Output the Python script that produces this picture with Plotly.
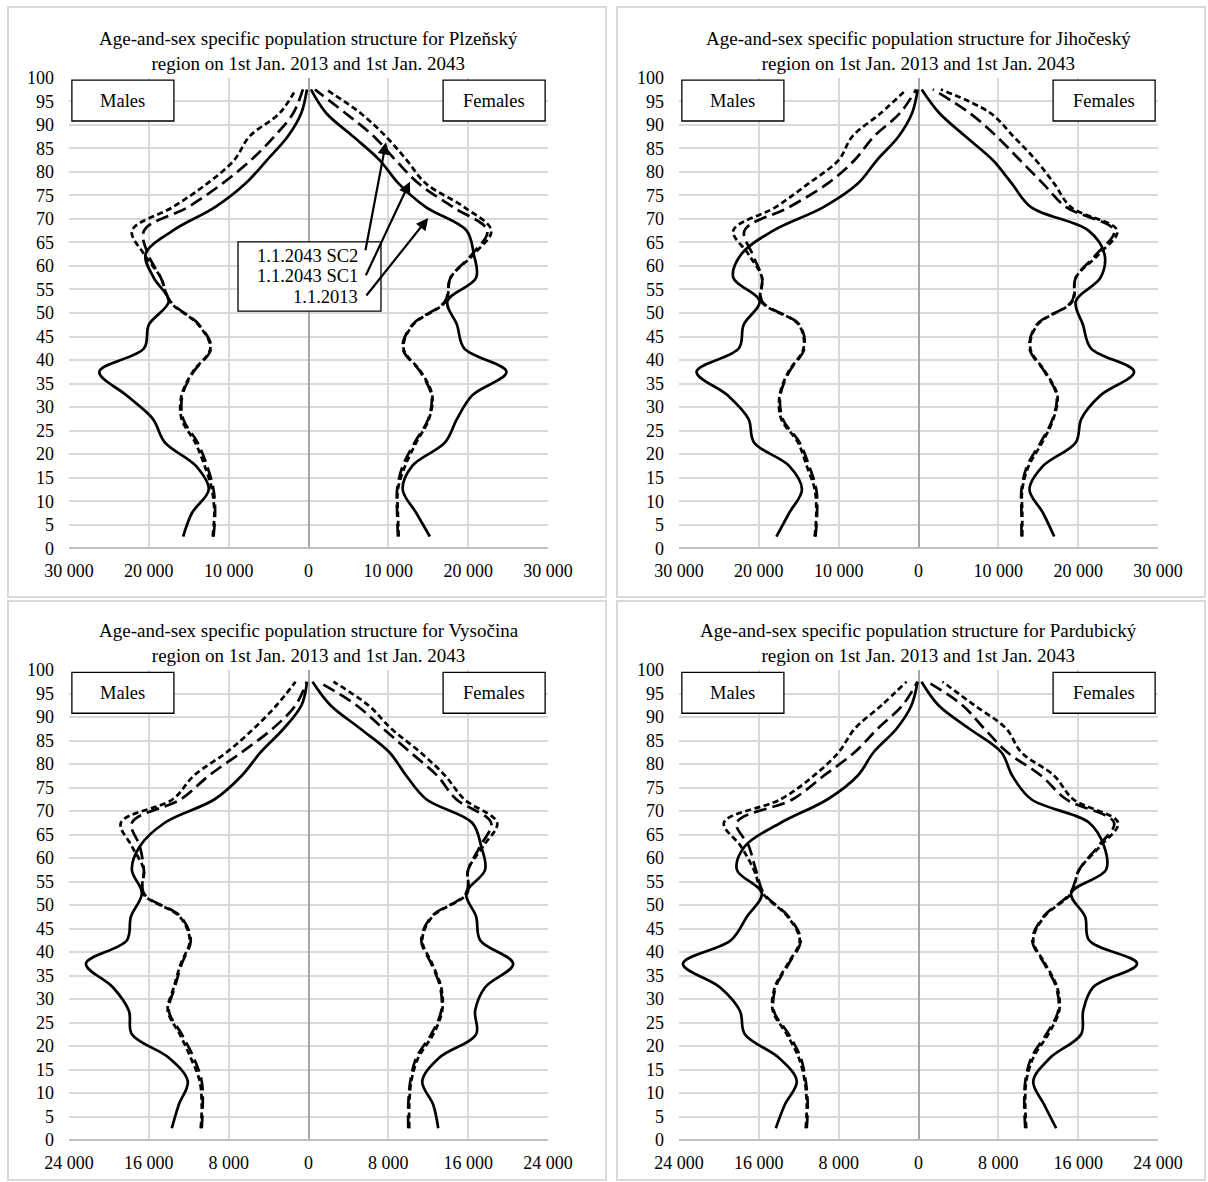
import plotly.graph_objects as go

# ---------------- data ----------------
ages = [2.5, 7.5, 12.5, 17.5, 22.5, 27.5, 32.5, 37.5, 42.5, 47.5,
        52.5, 57.5, 62.5, 67.5, 72.5, 77.5, 82.5, 87.5, 92.5, 97.5]

regions = ["Plzeňský", "Jihočeský", "Vysočina", "Pardubický"]

y_ticks = [0, 5, 10, 15, 20, 25, 30, 35, 40, 45, 50, 55, 60, 65, 70, 75, 80, 85, 90, 95, 100]
x_ticks_30 = [-30000, -20000, -10000, 0, 10000, 20000, 30000]
x_labels_30 = ["30 000", "20 000", "10 000", "0", "10 000", "20 000", "30 000"]
x_ticks_24 = [-24000, -16000, -8000, 0, 8000, 16000, 24000]
x_labels_24 = ["24 000", "16 000", "8 000", "0", "8 000", "16 000", "24 000"]

# Plzeňský
plz_m_2013 = [15700, 14600, 12500, 14100, 18000, 19500, 22800, 26200, 20600, 20000,
              17500, 19400, 20400, 17000, 11700, 7900, 5200, 2600, 900, 200]
plz_m_sc1 = [11900, 11700, 11900, 12700, 13900, 15700, 15800, 14400, 12200, 13700,
             17300, 18500, 20100, 20600, 15100, 10800, 7200, 4300, 1900, 700]
plz_m_sc2 = [12000, 11800, 12100, 13000, 14200, 15900, 15900, 14500, 12300, 13800,
             17400, 18500, 20600, 22100, 17000, 12700, 9300, 7400, 3600, 1600]
plz_f_2013 = [15200, 13500, 11800, 13000, 17100, 18600, 20500, 24800, 19500, 18600,
              17400, 21000, 20700, 19800, 14700, 11300, 8900, 5600, 2200, 300]
plz_f_sc1 = [11200, 11100, 11100, 11800, 13300, 15000, 15400, 14000, 11800, 13000,
             17100, 17800, 20500, 22400, 18100, 13800, 10900, 8200, 4600, 800]
plz_f_sc2 = [11300, 11200, 11200, 12100, 13500, 15100, 15500, 14100, 11900, 13100,
             17200, 17800, 20700, 22900, 19500, 14700, 12300, 9700, 6500, 2200]

# Jihočeský
jih_m_2013 = [17800, 16200, 14600, 16200, 20600, 21300, 23900, 27800, 22500, 21900,
              19900, 23200, 22200, 18200, 11900, 7600, 5200, 2500, 800, 100]
jih_m_sc1 = [12900, 12700, 12800, 13700, 14900, 17000, 17300, 16200, 14300, 14900,
             19600, 19600, 20800, 21800, 16200, 11400, 8000, 5600, 2300, 300]
jih_m_sc2 = [13000, 12800, 13000, 14000, 15100, 17200, 17400, 16300, 14400, 15000,
             19700, 19600, 21300, 23200, 17900, 13800, 10000, 8300, 4700, 1500]
jih_f_2013 = [17000, 15600, 13900, 15600, 19700, 20400, 22800, 27000, 21600, 20600,
              19700, 22800, 23300, 21300, 14100, 11700, 9300, 5900, 2600, 400]
jih_f_sc1 = [12900, 12900, 12900, 13600, 15300, 16800, 17300, 15800, 13900, 14800,
             19200, 19700, 22300, 24500, 18500, 15600, 12700, 9800, 6400, 1800]
jih_f_sc2 = [13000, 13000, 13000, 13800, 15500, 16900, 17400, 15900, 14000, 14900,
             19300, 19700, 22600, 24900, 19100, 17000, 14700, 11900, 9000, 2800]

# Vysočina
vys_m_2013 = [13700, 13000, 12100, 14000, 17700, 18000, 19600, 22300, 18200, 17800,
              16700, 17700, 16900, 14400, 9400, 6700, 4800, 2500, 700, 150]
vys_m_sc1 = [10700, 10600, 10700, 11500, 12700, 14000, 13400, 12700, 11800, 12800,
             16500, 16500, 16900, 17700, 12800, 10000, 6700, 3600, 1300, 150]
vys_m_sc2 = [10800, 10700, 10900, 11800, 12900, 14100, 13500, 12800, 11900, 12900,
             16600, 16500, 17700, 18800, 13600, 11500, 8200, 5500, 3200, 1300]
vys_f_2013 = [13000, 12500, 11400, 13100, 16800, 16700, 17700, 20500, 17200, 16800,
              15800, 17700, 17300, 16400, 11800, 9800, 8100, 5200, 2200, 400]
vys_f_sc1 = [10000, 10000, 10200, 10800, 12300, 13300, 13200, 12300, 11300, 12300,
             15800, 16000, 17200, 18300, 14800, 12900, 10200, 7500, 4800, 1000]
vys_f_sc2 = [10100, 10100, 10300, 11000, 12500, 13400, 13300, 12400, 11400, 12400,
             15900, 16000, 17500, 18900, 15600, 13700, 11200, 8300, 6000, 2500]

# Pardubický
par_m_2013 = [14300, 13400, 12200, 14000, 17400, 17900, 19900, 23600, 18800, 17200,
              15700, 18200, 17400, 13800, 9100, 6100, 4500, 2200, 700, 100]
par_m_sc1 = [11200, 11100, 11300, 11800, 13000, 14500, 14300, 13000, 11800, 13000,
             15500, 16300, 17000, 18200, 12600, 9500, 6400, 4100, 1600, 100]
par_m_sc2 = [11300, 11200, 11400, 12000, 13200, 14600, 14400, 13100, 11900, 13100,
             15600, 16500, 17800, 19500, 13800, 10500, 8000, 6400, 3700, 1200]
par_f_2013 = [13800, 12600, 11500, 13200, 16300, 16500, 17500, 21900, 17100, 16700,
              15300, 18800, 18600, 17100, 11300, 9400, 8300, 5100, 2000, 300]
par_f_sc1 = [10700, 10600, 10700, 11300, 12800, 14000, 13800, 12600, 11400, 12500,
             15200, 16100, 18000, 19600, 14800, 12300, 8900, 6600, 4400, 900]
par_f_sc2 = [10800, 10700, 10800, 11500, 13000, 14100, 13900, 12700, 11500, 12600,
             15300, 16100, 18200, 20000, 15500, 13600, 10300, 8800, 5600, 2400]

panels_data = [
    (plz_m_2013, plz_m_sc1, plz_m_sc2, plz_f_2013, plz_f_sc1, plz_f_sc2),
    (jih_m_2013, jih_m_sc1, jih_m_sc2, jih_f_2013, jih_f_sc1, jih_f_sc2),
    (vys_m_2013, vys_m_sc1, vys_m_sc2, vys_f_2013, vys_f_sc1, vys_f_sc2),
    (par_m_2013, par_m_sc1, par_m_sc2, par_f_2013, par_f_sc1, par_f_sc2),
]
panel_ticks = [(x_ticks_30, x_labels_30), (x_ticks_30, x_labels_30),
               (x_ticks_24, x_labels_24), (x_ticks_24, x_labels_24)]

# ---------------- layout geometry (pixels) ----------------
W, H = 1208, 1182
FONT = "Liberation Serif, Times New Roman, serif"
GRID = "#d9d9d9"


def px(x):
    return x / W


def py(y):
    return 1 - y / H


plot_x = [(69, 548), (679, 1158), (69, 548), (679, 1158)]
plot_y = [(77.7, 548.3), (77.7, 548.3), (670, 1140), (670, 1140)]
borders = [(8, 7, 606, 597), (617, 7, 1205, 597), (8, 601, 606, 1180), (617, 601, 1205, 1180)]

styles = [dict(dash="solid"), dict(dash="13px,6px"), dict(dash="6px,3.5px")]

fig = go.Figure()
layout = dict(width=W, height=H, autosize=False,
              margin=dict(l=0, r=0, t=0, b=0, pad=0, autoexpand=False),
              paper_bgcolor="white", plot_bgcolor="white", showlegend=False,
              font=dict(family=FONT, size=18, color="black"))
shapes = []
annotations = []

for i in range(4):
    n = "" if i == 0 else str(i + 1)
    xa, ya = "x" + n, "y" + n
    data = panels_data[i]
    for s in range(3):
        fig.add_trace(go.Scatter(x=[-v for v in data[s]], y=ages, mode="lines",
                                 line=dict(color="black", width=2.7, shape="spline",
                                           smoothing=1, **styles[s]),
                                 xaxis=xa, yaxis=ya, hoverinfo="skip"))
        fig.add_trace(go.Scatter(x=data[3 + s], y=ages, mode="lines",
                                 line=dict(color="black", width=2.7, shape="spline",
                                           smoothing=1, **styles[s]),
                                 xaxis=xa, yaxis=ya, hoverinfo="skip"))
    tv, tt = panel_ticks[i]
    layout["xaxis" + n] = dict(domain=[px(plot_x[i][0]), px(plot_x[i][1])], anchor=ya,
                               range=[tv[0], tv[-1]], tickvals=tv, ticktext=tt,
                               showgrid=True, gridcolor=GRID, gridwidth=2,
                               zeroline=True, zerolinecolor="#a6a6a6", zerolinewidth=2,
                               showline=False, ticks="", ticklabelstandoff=10,
                               automargin=False,
                               tickfont=dict(family=FONT, size=18, color="black"),
                               fixedrange=True)
    layout["yaxis" + n] = dict(domain=[py(plot_y[i][1]), py(plot_y[i][0])], anchor=xa,
                               range=[0, 100], tickvals=y_ticks,
                               showgrid=True, gridcolor=GRID, gridwidth=2,
                               zeroline=True, zerolinecolor="#bfbfbf", zerolinewidth=2,
                               showline=False, ticks="", ticklabelstandoff=14,
                               automargin=False,
                               tickfont=dict(family=FONT, size=18, color="black"),
                               fixedrange=True)
    # panel border
    bx0, by0, bx1, by1 = borders[i]
    shapes.append(dict(type="rect", xref="paper", yref="paper",
                       x0=px(bx0), x1=px(bx1), y0=py(by1), y1=py(by0),
                       line=dict(color=GRID, width=2), fillcolor="rgba(0,0,0,0)"))
    # title
    cx = (plot_x[i][0] + plot_x[i][1]) / 2
    annotations.append(dict(xref="paper", yref="paper", x=px(cx), y=py(plot_y[i][0] - 27),
                            xanchor="center", yanchor="middle", showarrow=False,
                            text="Age-and-sex specific population structure for " + regions[i]
                                 + "<br>region on 1st Jan. 2013 and 1st Jan. 2043",
                            font=dict(family=FONT, size=19, color="black")))
    # Males / Females boxes
    for (x0, x1, label) in [(0.006, 0.219, "Males"), (0.781, 0.994, "Females")]:
        shapes.append(dict(type="rect", xref=xa + " domain", yref=ya + " domain",
                           x0=x0, x1=x1, y0=0.908, y1=0.995,
                           line=dict(color="black", width=1.3), fillcolor="white",
                           layer="above"))
        annotations.append(dict(xref=xa + " domain", yref=ya + " domain",
                                x=(x0 + x1) / 2, y=(0.908 + 0.995) / 2,
                                xanchor="center", yanchor="middle", showarrow=False,
                                text=label, font=dict(family=FONT, size=18.5, color="black")))

# legend-like callout in first panel
shapes.append(dict(type="rect", xref="x", yref="y", x0=-8830, x1=9080, y0=50.4, y1=65.1,
                   line=dict(color="black", width=1.3), fillcolor="white", layer="above"))
callout_labels = ["1.1.2043 SC2", "1.1.2043 SC1", "1.1.2013"]
callout_y = [62.2, 57.9, 53.4]
arrow_heads = [(9700, 86.3), (12700, 77.9), (15000, 70.2)]
arrow_tails = [(7100, 63.0), (7100, 57.7), (7100, 53.4)]
for lab, yy in zip(callout_labels, callout_y):
    annotations.append(dict(xref="x", yref="y", x=6450, y=yy, xanchor="right",
                            yanchor="middle", showarrow=False, text=lab,
                            font=dict(family=FONT, size=18.5, color="black")))
for (hx, hy), (tx, ty) in zip(arrow_heads, arrow_tails):
    annotations.append(dict(xref="x", yref="y", x=hx, y=hy, axref="x", ayref="y",
                            ax=tx, ay=ty, text="", showarrow=True, arrowhead=2,
                            arrowsize=1.1, arrowwidth=2.2, arrowcolor="black",
                            standoff=0, startstandoff=0))

layout["shapes"] = shapes
layout["annotations"] = annotations
fig.update_layout(**layout)
fig.write_html("out.html", config={"displayModeBar": False, "responsive": False},
               post_script="document.body.style.margin='0px';")
